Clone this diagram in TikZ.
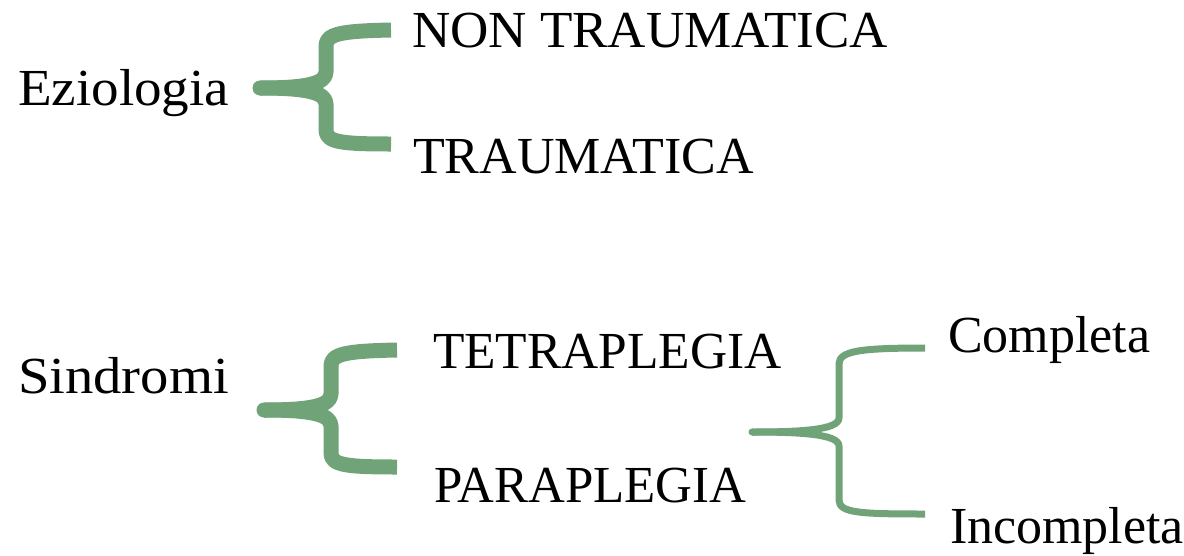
\documentclass[tikz,border=0pt]{standalone}
\usepackage{fontspec}
\setmainfont{Liberation Serif}
\definecolor{bracegreen}{RGB}{113,163,121}
\tikzset{
  lbl/.style={anchor=base west, inner sep=0pt, outer sep=0pt, font=\fontsize{52}{60}\selectfont, text=black},
  thickbrace/.style={draw=bracegreen, line width=15pt, line cap=butt, line join=round},
  thinbrace/.style={draw=bracegreen, line width=7pt, line cap=butt, line join=round},
}
\begin{document}
\begin{tikzpicture}[x=1pt,y=-1pt]
\useasboundingbox (0,0) rectangle (1184,555);

% labels
\node[lbl, xscale=1.06] (ezio) at (18,105) {Eziologia};
\node[lbl, xscale=1.02] (nontr) at (412,47) {NON TRAUMATICA};
\node[lbl] (traum) at (413,173) {TRAUMATICA};
\node[lbl, xscale=1.09] (sind) at (18,393) {Sindromi};
\node[lbl, xscale=0.99] (tetra) at (433,368) {TETRAPLEGIA};
\node[lbl, xscale=0.98] (para) at (434,502) {PARAPLEGIA};
\node[lbl] (compl) at (948,352) {Completa};
\node[lbl] (incompl) at (950,543) {Incompleta};

% brace end points
\coordinate (b1) at (260,88);
\coordinate (b1t) at (391,30);
\coordinate (b1b) at (391,144);
\coordinate (b2) at (264,410);
\coordinate (b2t) at (397,350);
\coordinate (b2b) at (397,467);
\coordinate (b3) at (752,432);
\coordinate (b3t) at (925,348);
\coordinate (b3b) at (925,514);

% brace 1 (Eziologia)
\draw[thickbrace] (b1) .. controls (305,88) and (326,84) .. (326,72) -- (326,46) .. controls (326,34) and (340,31) .. (b1t);
\draw[thickbrace] (b1) .. controls (305,88) and (326,92) .. (326,104) -- (326,130) .. controls (326,142) and (340,144) .. (b1b);
\fill[bracegreen] (b1) circle (7.5);

% brace 2 (Sindromi)
\draw[thickbrace] (b2) .. controls (310,410) and (331,406) .. (331,394) -- (331,366) .. controls (331,354) and (345,351) .. (b2t);
\draw[thickbrace] (b2) .. controls (310,410) and (331,414) .. (331,426) -- (331,453) .. controls (331,465) and (345,467) .. (b2b);
\fill[bracegreen] (b2) circle (7.5);

% brace 3 (Paraplegia)
\draw[thinbrace] (b3) .. controls (800,432) and (839,430) .. (839,418) -- (839,364) .. controls (839,351) and (860,348) .. (b3t);
\draw[thinbrace] (b3) .. controls (800,432) and (839,434) .. (839,446) -- (839,500) .. controls (839,513) and (860,514) .. (b3b);
\fill[bracegreen] (b3) circle (3.5);
\end{tikzpicture}
\end{document}
